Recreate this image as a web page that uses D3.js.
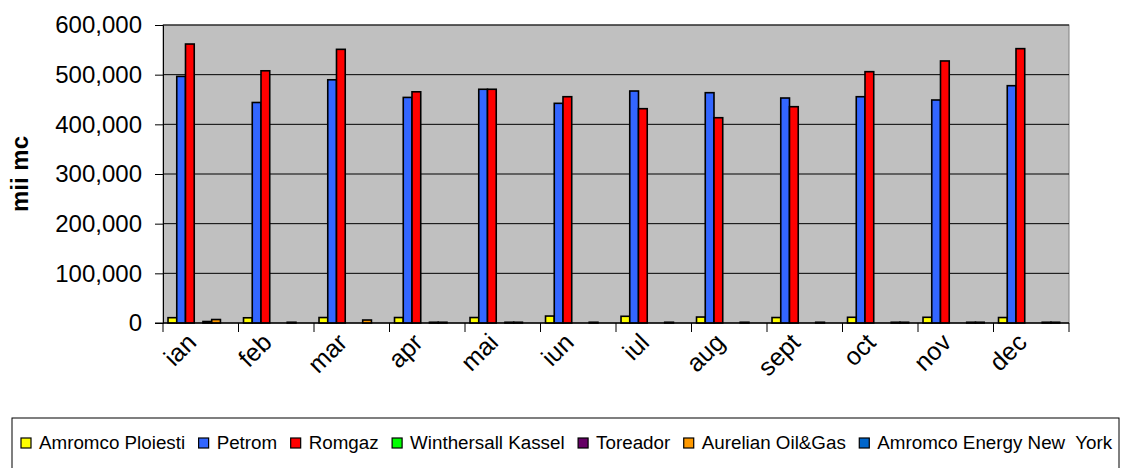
<!DOCTYPE html>
<html>
<head>
<meta charset="utf-8">
<script src="https://cdn.jsdelivr.net/npm/d3@7"></script>
<style>
body { margin: 0; background: #fff; }
text { font-family: "Liberation Sans", Arial, sans-serif; }
</style>
</head>
<body>
<div id="chart"></div>
<script>
var months = ["ian", "feb", "mar", "apr", "mai", "iun", "iul", "aug", "sept", "oct", "nov", "dec"];
var seriesNames = ["Amromco Ploiesti", "Petrom", "Romgaz", "Winthersall Kassel", "Toreador", "Aurelian Oil&Gas", "Amromco Energy New  York"];
var seriesColors = ["#FFFF00", "#3366FF", "#FF0000", "#00FF00", "#660066", "#FF9900", "#0066CC"];

// mii mc
var amromcoPloiesti = [10700, 10500, 11000, 11000, 11000, 14000, 13500, 12000, 11000, 11500, 11500, 11000];
var petrom = [496500, 444000, 489700, 454200, 470600, 442300, 467100, 463700, 453000, 455600, 449000, 477800];
var romgaz = [561700, 507800, 551000, 465500, 470600, 455600, 431500, 413300, 435500, 506000, 527600, 552400];
var winthersallKassel = [0, 0, 0, 0, 0, 0, 0, 0, 0, 0, 0, 0];
var toreador = [3000, 0, 0, 1500, 1500, 0, 0, 0, 0, 0, 0, 0];
var aurelian = [7000, 1500, 6000, 1500, 1500, 1500, 1500, 1500, 1500, 1500, 1500, 1500];
var amromcoNY = [0, 0, 0, 0, 0, 0, 0, 0, 0, 1500, 1500, 1500];
var yTicks = [0, 100000, 200000, 300000, 400000, 500000, 600000];

var allSeries = [amromcoPloiesti, petrom, romgaz, winthersallKassel, toreador, aurelian, amromcoNY];

var width = 1122, height = 468;
var plotLeft = 163, plotRight = 1069, plotTop = 25, plotBottom = 323;

var svg = d3.select("#chart").append("svg")
    .attr("width", width)
    .attr("height", height);

var y = d3.scaleLinear().domain([0, 600000]).range([plotBottom, plotTop]);
var xb = d3.scaleBand().domain(months).range([plotLeft, plotRight]);
var x0 = d3.scaleBand().domain(months).range([plotLeft, plotRight])
    .paddingInner(0.19).paddingOuter(0.095).align(0.35);
var x1 = d3.scaleBand().domain(seriesNames).range([0, x0.bandwidth()]);

// plot area
svg.append("rect")
    .attr("x", plotLeft).attr("y", plotTop)
    .attr("width", plotRight - plotLeft).attr("height", plotBottom - plotTop)
    .attr("fill", "#C0C0C0")
    .attr("stroke", "#808080");

// gridlines
svg.append("g")
    .selectAll("line")
    .data(yTicks)
    .join("line")
    .attr("x1", plotLeft).attr("x2", plotRight)
    .attr("y1", function (d) { return y(d); })
    .attr("y2", function (d) { return y(d); })
    .attr("stroke", "#000")
    .attr("stroke-width", 1);

// bars
var rows = [];
months.forEach(function (m, i) {
    seriesNames.forEach(function (s, j) {
        if (allSeries[j][i] > 0) rows.push({ month: m, name: s, color: seriesColors[j], value: allSeries[j][i] });
    });
});

svg.append("g")
    .selectAll("rect")
    .data(rows)
    .join("rect")
    .attr("x", function (d) { return x0(d.month) + x1(d.name); })
    .attr("y", function (d) { return y(d.value); })
    .attr("width", x1.bandwidth())
    .attr("height", function (d) { return y(0) - y(d.value); })
    .attr("fill", function (d) { return d.color; })
    .attr("stroke", "#000")
    .attr("stroke-width", 1.6);

// y axis
var yAxis = svg.append("g")
    .attr("transform", "translate(" + plotLeft + ",0)")
    .call(d3.axisLeft(y).tickValues(yTicks).tickSize(8).tickPadding(13).tickFormat(d3.format(",")));
yAxis.select(".domain").attr("stroke", "#000");
yAxis.selectAll("text").style("font-size", "24px").attr("fill", "#000");

svg.append("text")
    .attr("transform", "translate(28," + ((plotTop + plotBottom) / 2) + ") rotate(-90)")
    .attr("text-anchor", "middle")
    .style("font-size", "24px")
    .style("font-weight", "bold")
    .text("mii mc");

// x axis
var xg = svg.append("g");
xg.append("line")
    .attr("x1", plotLeft - 8).attr("x2", plotRight)
    .attr("y1", plotBottom).attr("y2", plotBottom)
    .attr("stroke", "#000");
xg.selectAll(".tk")
    .data(months.concat(["end"]))
    .join("line")
    .attr("class", "tk")
    .attr("x1", function (d) { return d === "end" ? plotRight : xb(d); })
    .attr("x2", function (d) { return d === "end" ? plotRight : xb(d); })
    .attr("y1", plotBottom).attr("y2", plotBottom + 9)
    .attr("stroke", "#000");
xg.selectAll("text")
    .data(months)
    .join("text")
    .attr("transform", function (d) {
        return "translate(" + (xb(d) + xb.bandwidth() / 2 - 3) + "," + (plotBottom + 21) + ") rotate(-45)";
    })
    .attr("text-anchor", "end")
    .style("font-size", "25px")
    .text(function (d) { return d; });

// legend
var lg = svg.append("g");
lg.append("rect")
    .attr("x", 12).attr("y", 418)
    .attr("width", 1107).attr("height", 60)
    .attr("fill", "#fff")
    .attr("stroke", "#000");

var lx = 21;
seriesNames.forEach(function (s, j) {
    lg.append("rect")
        .attr("x", lx).attr("y", 438)
        .attr("width", 10).attr("height", 10)
        .attr("fill", seriesColors[j])
        .attr("stroke", "#000")
        .attr("stroke-width", 1.2);
    var t = lg.append("text")
        .attr("x", lx + 18).attr("y", 449)
        .style("font-size", "18.8px")
        .style("white-space", "pre")
        .text(s);
    lx = lx + 18 + t.node().getComputedTextLength() + 13.5;
});
</script>
</body>
</html>
